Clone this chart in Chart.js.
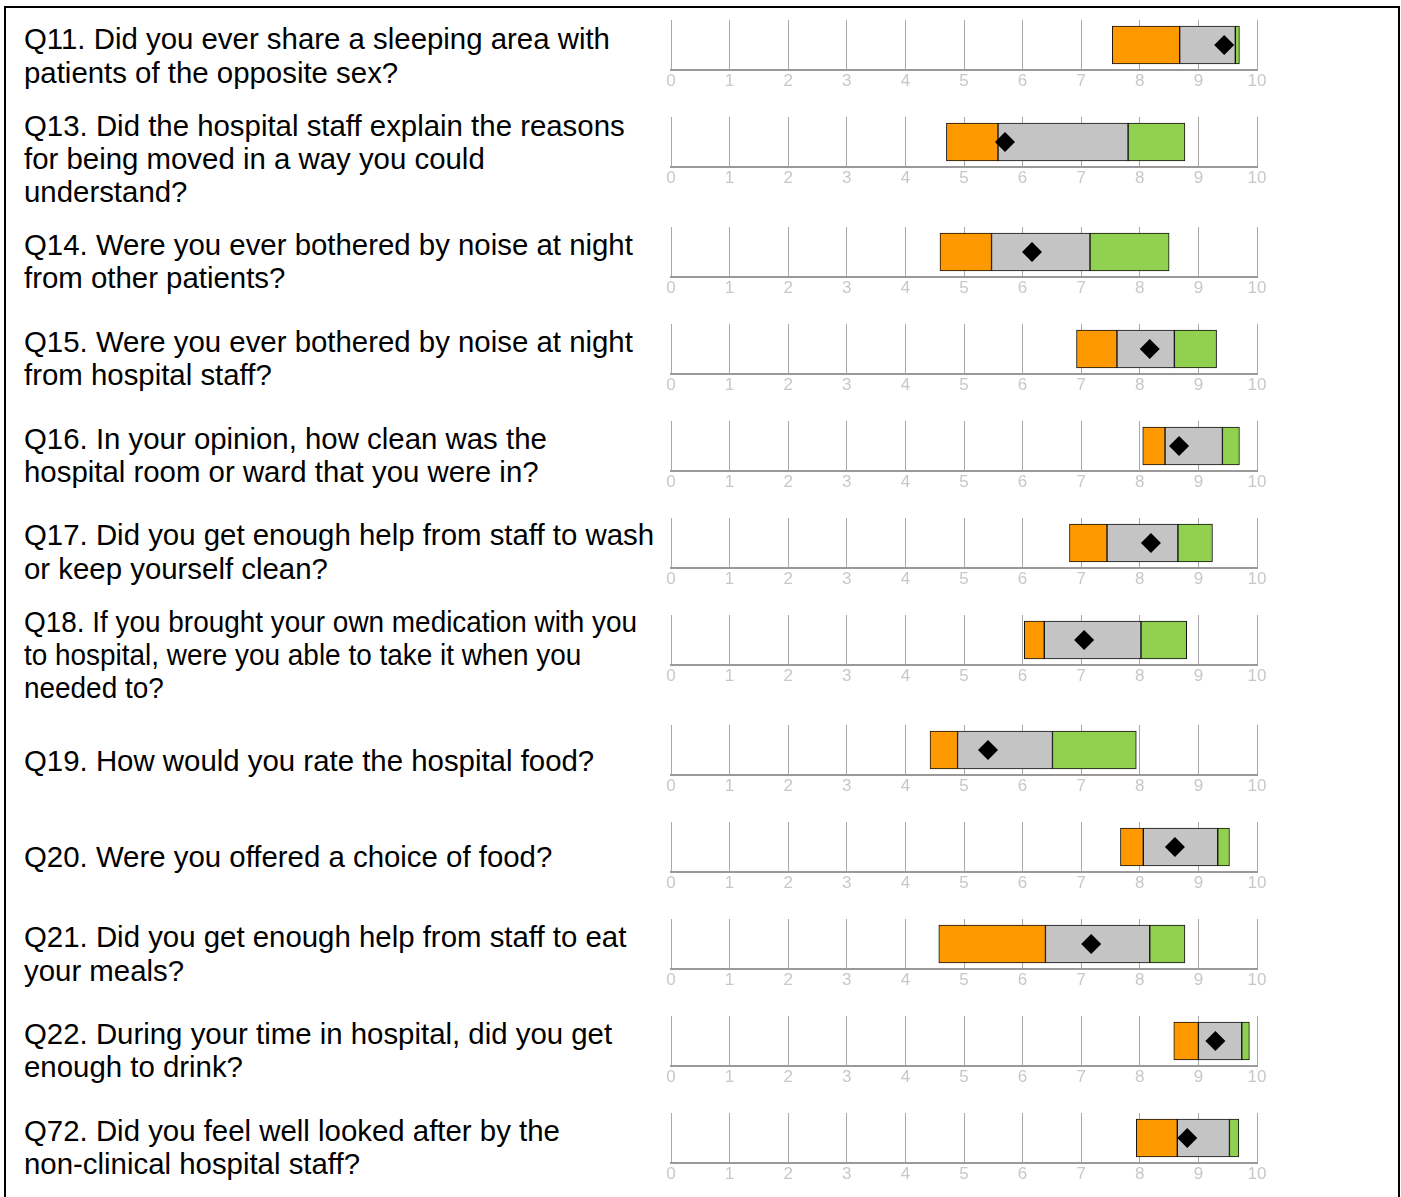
<!DOCTYPE html>
<html>
<head>
<meta charset="utf-8">
<script src="https://cdn.jsdelivr.net/npm/chart.js@4.4.1/dist/chart.umd.min.js"></script>
<style>
  html, body { margin: 0; padding: 0; background: #fff; }
  #page { position: relative; width: 1401px; height: 1197px; overflow: hidden; background: #fff; }
  #frame { position: absolute; left: 4px; top: 6px; width: 1392px; height: 1300px; border: 2px solid #000; }
  .q { position: absolute; left: 24px; font-family: "Liberation Sans", Arial, sans-serif; font-size: 29.4px;
       line-height: 33.2px; color: #000; white-space: nowrap; transform-origin: 0 0; }
  canvas { position: absolute; }
</style>
</head>
<body>
<div id="page"><div id="frame"></div></div>
<script>
// questions, one entry per row (line breaks as in the report)
const questions = [
  ["Q11. Did you ever share a sleeping area with", "patients of the opposite sex?"],
  ["Q13. Did the hospital staff explain the reasons", "for being moved in a way you could", "understand?"],
  ["Q14. Were you ever bothered by noise at night", "from other patients?"],
  ["Q15. Were you ever bothered by noise at night", "from hospital staff?"],
  ["Q16. In your opinion, how clean was the", "hospital room or ward that you were in?"],
  ["Q17. Did you get enough help from staff to wash", "or keep yourself clean?"],
  ["Q18. If you brought your own medication with you", "to hospital, were you able to take it when you", "needed to?"],
  ["Q19. How would you rate the hospital food?"],
  ["Q20. Were you offered a choice of food?"],
  ["Q21. Did you get enough help from staff to eat", "your meals?"],
  ["Q22. During your time in hospital, did you get", "enough to drink?"],
  ["Q72. Did you feel well looked after by the", "non-clinical hospital staff?"]
];

// range ends and band boundaries (orange | grey | green) plus the trust score
const rangeMin  = [7.53, 4.70, 4.59, 6.92, 8.05, 6.80, 6.03, 4.42, 7.67, 4.57, 8.58, 7.94];
const bandLow   = [8.68, 5.58, 5.47, 7.61, 8.43, 7.44, 6.37, 4.89, 8.06, 6.39, 9.00, 8.64];
const bandHigh  = [9.63, 7.80, 7.15, 8.59, 9.41, 8.65, 8.02, 6.51, 9.33, 8.17, 9.74, 9.53];
const rangeMax  = [9.70, 8.77, 8.50, 9.31, 9.70, 9.24, 8.80, 7.94, 9.53, 8.77, 9.87, 9.69];
const scores    = [9.44, 5.70, 6.16, 8.17, 8.67, 8.19, 7.05, 5.41, 8.60, 7.17, 9.29, 8.81];
const axisMin = 0;
const axisMax = 10;

// page layout: axis line y, label top and label squeeze for each row
const axisY  = [70, 167, 277, 374, 471, 568, 665, 775, 872, 969, 1066, 1163];
const labelY = [22.3, 109, 227.6, 325, 421.6, 518.3, 605, 743.6, 839.6, 920.3, 1017, 1113.6];
const labelSqueeze = [1, 1, 1, 1, 1, 1, 0.95, 1, 1, 1, 1, 1];

Chart.defaults.font.family = '"Liberation Sans", Arial, sans-serif';

const page = document.getElementById('page');

questions.forEach((lines, i) => {
  const lab = document.createElement('div');
  lab.className = 'q';
  lab.style.top = labelY[i] + 'px';
  if (labelSqueeze[i] !== 1) lab.style.transform = 'scaleX(' + labelSqueeze[i] + ')';
  lab.innerHTML = lines.join('<br>');
  page.appendChild(lab);

  const cv = document.createElement('canvas');
  cv.width = 640;
  cv.height = 90;
  cv.style.left = '650px';
  cv.style.top = (axisY[i] - 60) + 'px';
  page.appendChild(cv);

  const cat = lines[0].split('.')[0];
  const seg = (from, to, colour) => ({
    type: 'bar',
    data: [[from, to]],
    backgroundColor: colour,
    borderColor: '#111',
    borderWidth: 1,
    borderSkipped: false,
    barThickness: 38,
    grouped: false,
    order: 1
  });

  new Chart(cv, {
    type: 'bar',
    data: {
      labels: [cat],
      datasets: [
        seg(rangeMin[i], bandLow[i], '#ff9900'),
        seg(bandLow[i], bandHigh[i], '#c4c4c4'),
        seg(bandHigh[i], rangeMax[i], '#92d050'),
        {
          type: 'line',
          indexAxis: 'y',
          data: [scores[i]],
          showLine: false,
          pointStyle: 'rectRot',
          pointRadius: 10,
          pointBackgroundColor: '#000',
          pointBorderColor: '#000',
          pointBorderWidth: 0,
          order: 0
        }
      ]
    },
    options: {
      indexAxis: 'y',
      responsive: false,
      animation: false,
      devicePixelRatio: 1,
      layout: { padding: { left: 21, right: 33, top: 10, bottom: 0 } },
      plugins: { legend: { display: false }, tooltip: { enabled: false } },
      scales: {
        x: {
          min: axisMin,
          max: axisMax,
          ticks: { stepSize: 1, color: '#c8c8c8', font: { size: 17 }, padding: 1 },
          grid: { color: '#a8a8a8', lineWidth: 1, drawTicks: false },
          border: { color: '#9a9a9a', width: 2 },
          afterFit: s => { s.height = 30; }
        },
        y: { display: false }
      }
    }
  });
});
</script>
</body>
</html>
